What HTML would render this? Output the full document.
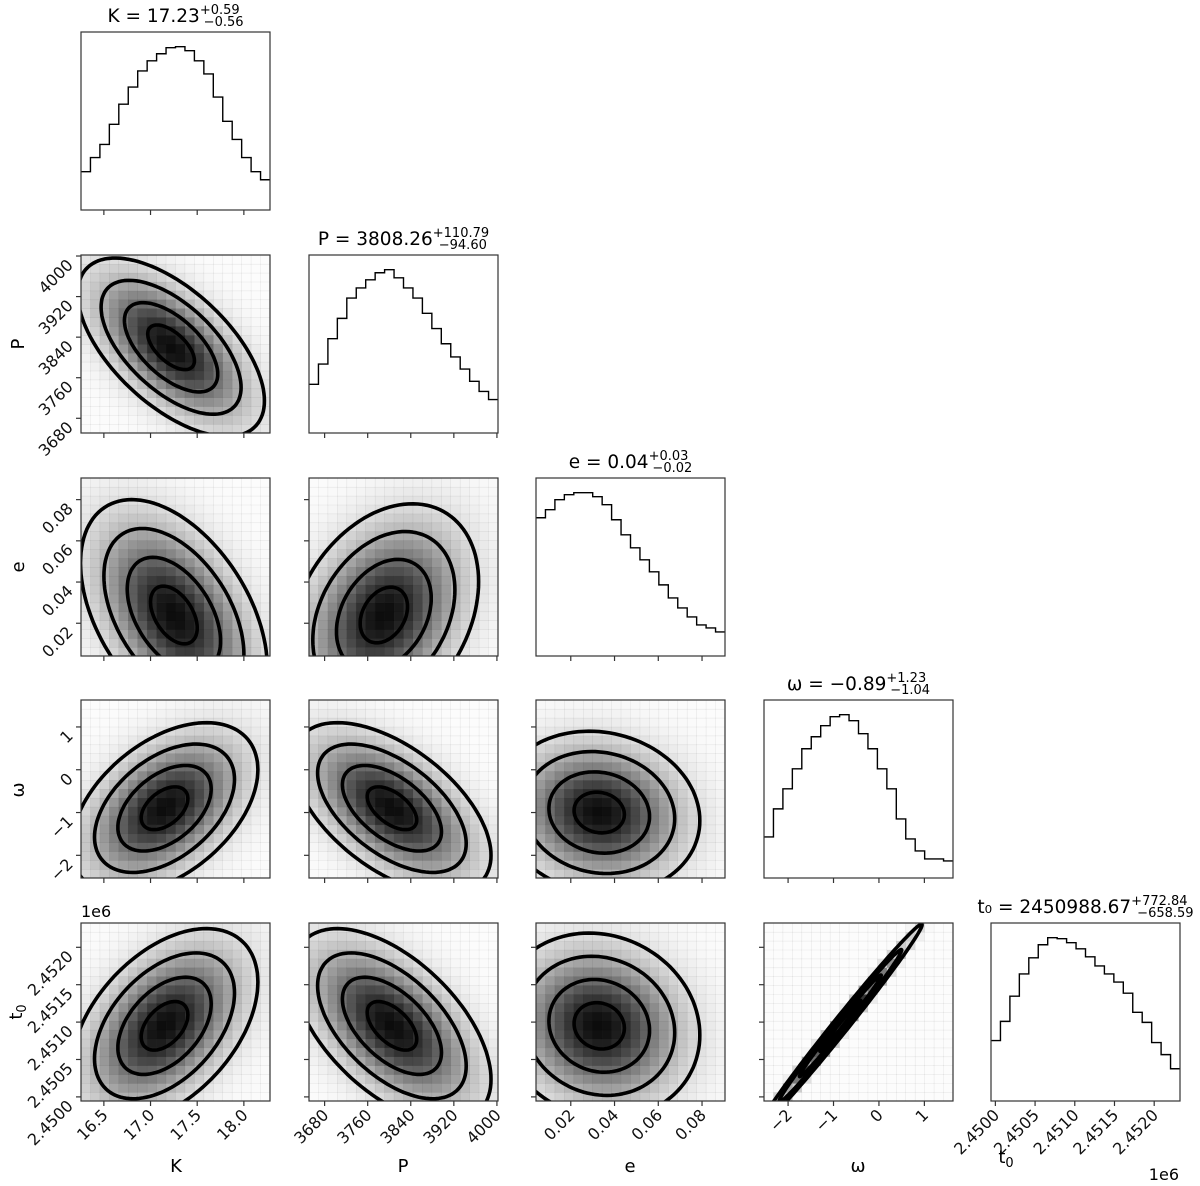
<!DOCTYPE html>
<html><head><meta charset="utf-8">
<style>
html,body{margin:0;padding:0;background:#fff;}
svg{display:block;font-family:"DejaVu Sans","Liberation Sans",sans-serif;}
</style></head>
<body>
<svg id="fig" width="1200" height="1186" viewBox="0 0 1200 1186" xmlns="http://www.w3.org/2000/svg"></svg>
<script>
// ---- data ----
const paramNames = ["K","P","e","\u03c9","t0"];
const axisMin = [16.255, 3651, 0.0041, -2.53, 2449945];
const axisMax = [18.28, 4002, 0.0905, 1.63, 2452325];
const tickK = [16.5,17.0,17.5,18.0];
const tickP = [3680,3760,3840,3920,4000];
const tickE = [0.02,0.04,0.06,0.08];
const tickW = [-2,-1,0,1];
const tickT = [2450000,2450500,2451000,2451500,2452000];
const tickLabelK = ["16.5","17.0","17.5","18.0"];
const tickLabelP = ["3680","3760","3840","3920","4000"];
const tickLabelE = ["0.02","0.04","0.06","0.08"];
const tickLabelW = ["\u22122","\u22121","0","1"];
const tickLabelT = ["2.4500","2.4505","2.4510","2.4515","2.4520"];
const histK = [38,52,65,85,105,122,138,148,155,161,162,158,148,135,112,88,70,52,38,30];
const histP = [48,68,93,113,133,143,151,158,161,153,143,133,118,103,88,75,63,51,41,33];
const histE = [138,146,156,161,163,163,159,151,136,121,108,96,84,71,58,48,39,31,28,24];
const histW = [41,69,89,109,129,141,152,161,163,157,144,129,109,89,59,39,27,19,19,17];
const histT = [60,79,104,126,142,155,162,161,157,151,143,134,126,118,107,88,78,58,46,32];
const titleMain = ["K = 17.23","P = 3808.26","e = 0.04","\u03c9 = \u22120.89","t\u2080 = 2450988.67"];
const titleSup = ["+0.59","+110.79","+0.03","+1.23","+772.84"];
const titleSub = ["\u22120.56","\u221294.60","\u22120.02","\u22121.04","\u2212658.59"];
// 2D pairs: [colVar,rowVar]
const pairCol = [0,0,1,0,1,2,0,1,2,3];
const pairRow = [1,2,2,3,3,3,4,4,4,4];
const pairMeanX = [17.22,17.25,3790,17.15,3805,0.033,17.15,3805,0.033,-0.85];
const pairMeanY = [3820,0.024,0.024,-0.9,-0.9,-1.0,2450950,2450950,2450950,2450950];
const pairSdX = [0.5,0.5,88,0.5,92,0.023,0.5,92,0.023,0.9];
const pairSdY = [88,0.028,0.027,1.0,1.0,0.95,650,650,620,680];
const pairRho = [-0.6,-0.45,0.3,0.45,-0.55,-0.1,0.45,-0.55,-0.1,0.993];
const contourLevels = [0.5,1.0,1.5,2.0];

const ticks=[tickK,tickP,tickE,tickW,tickT];
const tickLabels=[tickLabelK,tickLabelP,tickLabelE,tickLabelW,tickLabelT];
const hists=[histK,histP,histE,histW,histT];

// ---- layout ----
const colLeft=[81,309,536,764,991], rowTop=[32,255,478,700,923], PW=189, PH=178;
const NS="http://www.w3.org/2000/svg";
const svg=document.getElementById('fig');
function mk(tag,attrs,parent){const e=document.createElementNS(NS,tag);for(const k in attrs)e.setAttribute(k,attrs[k]);(parent||svg).appendChild(e);return e;}
function sx(v,i){return colLeft[i]+(v-axisMin[i])/(axisMax[i]-axisMin[i])*PW;}
function sy(v,i){return rowTop[i]+PH-(v-axisMin[i])/(axisMax[i]-axisMin[i])*PH;}

const defs=mk('defs',{});
// ---- histograms ----
for(let i=0;i<5;i++){
  const h=hists[i], n=h.length, mx=Math.max(...h)*1.09;
  const g=mk('g',{});
  
  
  let d='', x0=colLeft[i];
  for(let b=0;b<n;b++){
    const xa=x0+b*PW/n, xb=x0+(b+1)*PW/n, y=rowTop[i]+PH-h[b]/mx*PH;
    d+=(b===0?'M':'L')+xa+','+y+' L'+xb+','+y+' ';
  }
  const p=mk('path',{d:d,fill:'none',stroke:'#000','stroke-width':1.4},g);
  
  
  const cx=colLeft[i]+PW/2, ty=rowTop[i]-10;
  const supW=titleSup[i].length*7.2;
  const t=mk('text',{x:cx,y:ty,'text-anchor':'middle','font-size':18.5,fill:'#000'});
  
  
  const a=mk('tspan',{},t);a.textContent=titleMain[i];
  const b=mk('tspan',{dy:-8,'font-size':13},t);b.textContent=titleSup[i];
  const c=mk('tspan',{dx:-supW,dy:12,'font-size':13},t);c.textContent=titleSub[i];
}
// ---- 2D panels ----
for(let k=0;k<pairCol.length;k++){
  const i=pairCol[k], j=pairRow[k];
  const g=mk('g',{});
  
  
  const cid='clip'+k;
  const cp=mk('clipPath',{id:cid},defs);
  mk('rect',{x:colLeft[i],y:rowTop[j],width:PW,height:PH},cp);
  g.setAttribute('clip-path','url(#'+cid+')');
  const mxv=pairMeanX[k], myv=pairMeanY[k], sX=pairSdX[k], sY=pairSdY[k], r=pairRho[k];
  const N=20;
  for(let a=0;a<N;a++)for(let b=0;b<N;b++){
    const vx=axisMin[i]+(a+0.5)/N*(axisMax[i]-axisMin[i]);
    const vy=axisMin[j]+(b+0.5)/N*(axisMax[j]-axisMin[j]);
    const zx=(vx-mxv)/sX, zy=(vy-myv)/sY;
    const q=(zx*zx-2*r*zx*zy+zy*zy)/(1-r*r);
    const dens=Math.exp(-q/2);
    const gv=Math.round(252-240*Math.pow(dens,1.05));
    const cell=mk('rect',{x:colLeft[i]+a*PW/N,y:rowTop[j]+PH-(b+1)*PH/N,width:PW/N+0.3,height:PH/N+0.3,fill:`rgb(${gv},${gv},${gv})`,stroke:'rgba(0,0,0,0.07)','stroke-width':0.6},g);
    
    
  }
  for(const L of contourLevels){
    let d='';
    for(let s=0;s<=120;s++){
      const th=s/120*2*Math.PI;
      const u=Math.cos(th), w=Math.sin(th);
      const zx=L*u, zy=L*(r*u+Math.sqrt(1-r*r)*w);
      const px=sx(mxv+zx*sX,i), py=sy(myv+zy*sY,j);
      d+=(s===0?'M':'L')+px.toFixed(1)+','+py.toFixed(1)+' ';
    }
    const p=mk('path',{d:d+'Z',fill:'none',stroke:'#000','stroke-width':3.6,'stroke-linejoin':'round'},g);
    
    
  }
}
// ---- frames, ticks, labels ----
for(let j=0;j<5;j++)for(let i=0;i<=j;i++){
  const x0=colLeft[i], y0=rowTop[j];
  const f=mk('rect',{x:x0,y:y0,width:PW,height:PH,fill:'none',stroke:'#333','stroke-width':1.2});
  
  
  for(let t=0;t<ticks[i].length;t++){
    const x=sx(ticks[i][t],i);
    mk('line',{x1:x,x2:x,y1:y0+PH,y2:y0+PH+5,stroke:'#333','stroke-width':1.2});
    if(j===4){
      const lb=mk('text',{x:x+5,y:y0+PH+15,'text-anchor':'end','font-size':16,fill:'#111',transform:`rotate(-45 ${x+5} ${y0+PH+15})`});
      
      
      lb.textContent=tickLabels[i][t];
    }
  }
  if(i<j){
    for(let t=0;t<ticks[j].length;t++){
      const y=sy(ticks[j][t],j);
      mk('line',{x1:x0-5,x2:x0,y1:y,y2:y,stroke:'#333','stroke-width':1.2});
      if(i===0){
        const lb=mk('text',{x:x0-7,y:y+10,'text-anchor':'end','font-size':16,fill:'#111',transform:`rotate(-45 ${x0-7} ${y+10})`});
        
        
        lb.textContent=tickLabels[j][t];
      }
    }
  }
}
const xl=[["K",176,1172],["P",403,1172],["e",630,1172],["\u03c9",858,1172]];
for(const [s,x,y] of xl){const t=mk('text',{x:x,y:y,'text-anchor':'middle','font-size':18});t.textContent=s;}
const tx=mk('text',{x:1006,y:1163,'text-anchor':'middle','font-size':18});


tx.innerHTML='t<tspan font-size="13" dy="4">0</tspan>';
const yl=[["P",344],["e",567],["\u03c9",790]];
for(const [s,y] of yl){const t=mk('text',{x:24,y:y,'text-anchor':'middle','font-size':18,transform:`rotate(-90 24 ${y})`});t.textContent=s;}
const ty=mk('text',{x:22,y:1012,'text-anchor':'middle','font-size':18,transform:'rotate(-90 22 1012)'});


ty.innerHTML='t<tspan font-size="13" dy="4">0</tspan>';
const o1=mk('text',{x:81,y:917,'font-size':16});


o1.textContent='1e6';
const o2=mk('text',{x:1179,y:1180,'text-anchor':'end','font-size':16});


o2.textContent='1e6';
</script>
</body></html>
